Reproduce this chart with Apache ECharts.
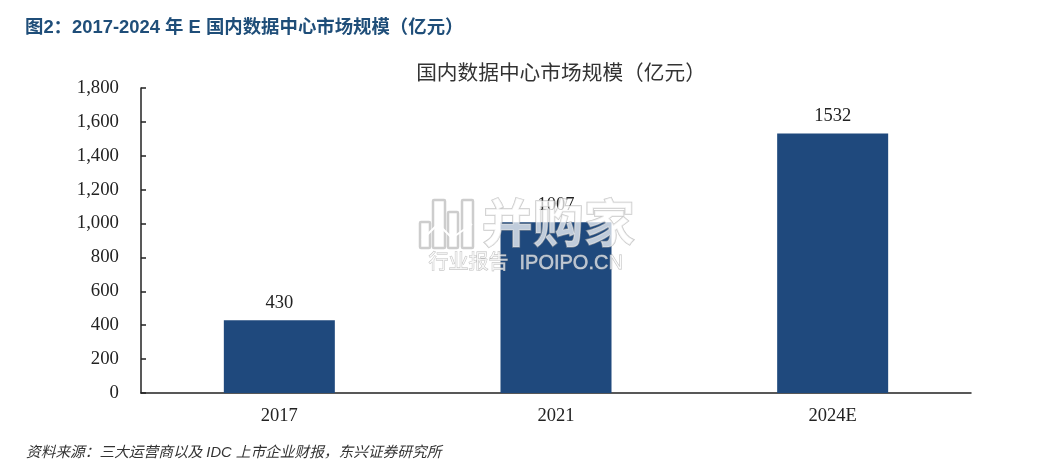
<!DOCTYPE html>
<html>
<head>
<meta charset="utf-8">
<style>
  html, body { margin: 0; padding: 0; background: #fff; }
  #main { width: 1050px; height: 466px; }
</style>
<script src="https://cdn.jsdelivr.net/npm/echarts@6/dist/echarts.min.js"></script>
</head>
<body>
<div id="main"></div>
<script>
var categories = ['2017', '2021', '2024E'];
var marketSize = [430, 1007, 1532];
var yTicks = [0, 200, 400, 600, 800, 1000, 1200, 1400, 1600, 1800];

var serif = '"Liberation Serif", "Noto Sans CJK SC", serif';
var sans = '"Liberation Sans", "Noto Sans CJK SC", sans-serif';

var myChart = echarts.init(document.getElementById('main'), null, {renderer: 'canvas'});

// watermark icon, outline bars
function wmBar(x, y, w, h) {
  return {
    type: 'rect', z: 50,
    shape: {x: x, y: y, width: w, height: h, r: 1},
    style: {fill: 'rgba(255,255,255,0.4)', stroke: 'rgba(200,200,200,0.9)', lineWidth: 2.5}
  };
}

var option = {
  backgroundColor: '#fff',
  animation: false,
  title: [
    {
      text: '图2：2017-2024 年 E 国内数据中心市场规模（亿元）',
      left: 20, top: 14,
      textStyle: {color: '#1f4e79', fontSize: 18.4, fontWeight: 'bold', fontFamily: sans}
    },
    {
      text: '国内数据中心市场规模（亿元）',
      left: 556, top: 59, textAlign: 'center',
      textStyle: {color: '#333', fontSize: 20.7, fontWeight: 'normal', fontFamily: serif}
    },
    {
      text: '资料来源：三大运营商以及 IDC 上市企业财报，东兴证券研究所',
      left: 21, top: 441,
      textStyle: {color: '#333', fontSize: 14.7, fontWeight: 'normal', fontStyle: 'italic', fontFamily: sans}
    }
  ],
  grid: {left: 141, top: 88, width: 830, height: 305, containLabel: false},
  xAxis: {
    type: 'category',
    data: categories,
    axisLine: {lineStyle: {color: '#222', width: 1.5}},
    axisTick: {show: false},
    axisLabel: {color: '#222', fontSize: 18.5, fontFamily: serif, margin: 14}
  },
  yAxis: {
    type: 'value',
    min: yTicks[0],
    max: yTicks[yTicks.length - 1],
    interval: 200,
    axisLine: {show: true, lineStyle: {color: '#222', width: 1.5}},
    axisTick: {show: true, inside: true, length: 5, lineStyle: {color: '#222', width: 1.5}},
    splitLine: {show: false},
    axisLabel: {
      color: '#222', fontSize: 18.8, fontFamily: serif, margin: 22, padding: [4, 0, 0, 0],
      formatter: function (v) { return v.toLocaleString('en-US'); }
    }
  },
  series: [{
    type: 'bar',
    data: marketSize,
    barWidth: 111,
    itemStyle: {color: '#1f497d'},
    label: {show: true, position: 'top', distance: 8, color: '#222', fontSize: 18.5, fontFamily: serif}
  }],
  graphic: [
    wmBar(420, 222, 10, 26),
    wmBar(433, 200, 12, 48),
    wmBar(448, 212, 10, 36),
    wmBar(462, 200, 11, 48),
    {
      type: 'polyline', z: 51,
      shape: {points: [[422, 240], [438, 224], [452, 238], [472, 224]]},
      style: {stroke: '#fff', fill: null, lineWidth: 2}
    },
    {
      type: 'text', z: 52, left: 481, top: 196,
      style: {
        text: '并购家', fill: 'rgba(255,255,255,0.72)',
        stroke: 'rgba(165,165,165,0.6)', lineWidth: 1.5,
        font: 'bold 51px "Noto Sans CJK SC"'
      }
    },
    {
      type: 'text', z: 52, left: 428, top: 253,
      style: {
        text: '行业报告  IPOIPO.CN', fill: 'rgba(255,255,255,0.65)',
        stroke: 'rgba(165,165,165,0.75)', lineWidth: 0.8,
        font: '20px "Liberation Sans", "Noto Sans CJK SC"'
      }
    }
  ]
};

myChart.setOption(option);
</script>
</body>
</html>
